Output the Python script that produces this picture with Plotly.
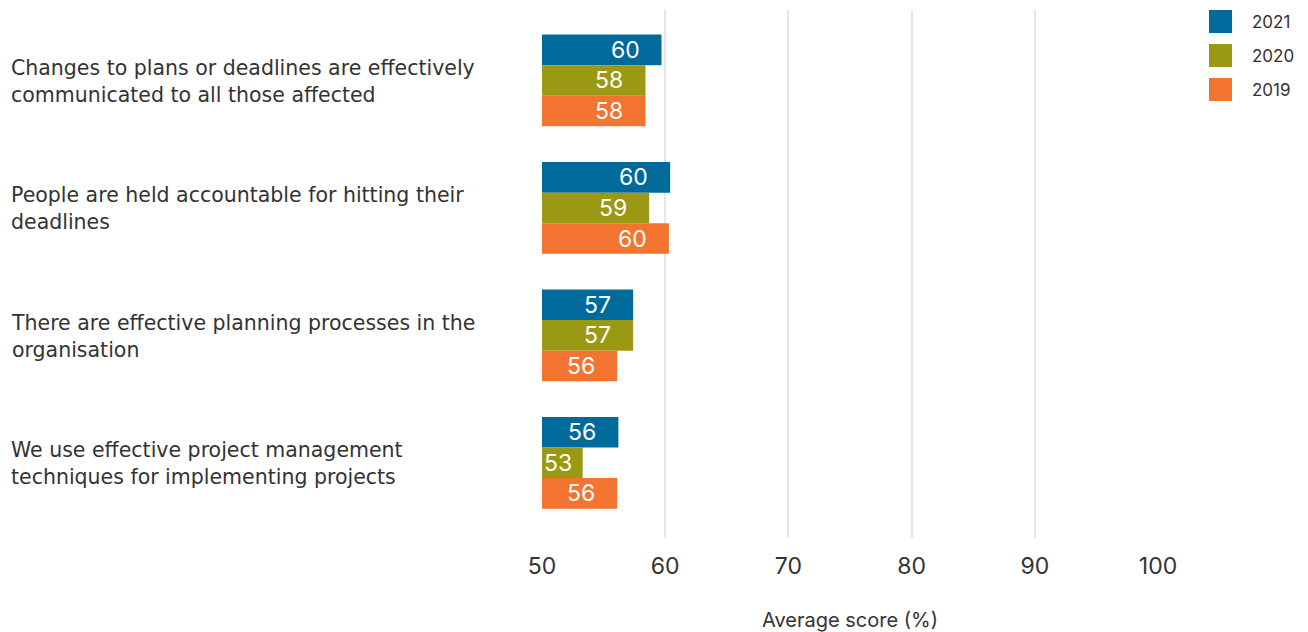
import plotly.graph_objects as go

categories = [
    "Changes to plans or deadlines are effectively<br>communicated to all those affected",
    "People are held accountable for hitting their<br>deadlines",
    "There are effective planning processes in the<br>organisation",
    "We use effective project management<br>techniques for implementing projects",
]
years = ["2021", "2020", "2019"]
values_2021 = [59.7, 60.4, 57.4, 56.2]
values_2020 = [58.4, 58.7, 57.4, 53.3]
values_2019 = [58.4, 60.3, 56.1, 56.1]
colors = ["#006A9B", "#999914", "#F37330"]

series = [values_2021, values_2020, values_2019]
FONT = "Inter"
TEXT = "#333333"

X0, X1 = 50, 100
PLOT_W = 1308 - 542 - 150
PX = PLOT_W / (X1 - X0)

fig = go.Figure()
idx = list(range(len(categories)))
for name, vals, col in zip(years, series, colors):
    fig.add_trace(go.Bar(
        y=idx, x=[v - X0 for v in vals], base=X0, orientation="h",
        name=name, marker=dict(color=col, line=dict(width=0)),
        showlegend=False, hoverinfo="x+name",
    ))

annotations = []
group_w = 0.72
bw = group_w / 3
for t, vals in enumerate(series):
    off = -group_w / 2 + bw / 2 + bw * t
    for i, v in enumerate(vals):
        xr = max(v - 20 / PX, X0 + 32 / PX)
        annotations.append(dict(
            x=xr, y=i + off, xref="x", yref="y", text=str(round(v)),
            showarrow=False, xanchor="right", yanchor="middle",
            font=dict(family=FONT, size=23, color="white"),
        ))

for i, c in enumerate(categories):
    annotations.append(dict(
        x=0, y=i, xref="paper", yref="y", xshift=-533, yshift=-1, text=c,
        showarrow=False, xanchor="left", yanchor="middle", align="left",
        font=dict(family="DejaVu Sans", size=20.5, color=TEXT),
    ))

shapes = []
for k, (name, col) in enumerate(zip(years, colors)):
    top = -34 * k
    shapes.append(dict(
        type="rect", xref="paper", yref="paper", xsizemode="pixel", ysizemode="pixel",
        xanchor=1, yanchor=1, x0=51, x1=74, y0=top, y1=top - 23,
        fillcolor=col, line=dict(width=0),
    ))
    annotations.append(dict(
        x=1, y=1, xref="paper", yref="paper", xshift=92, yshift=top - 11.5,
        text=name, showarrow=False, xanchor="left", yanchor="middle",
        font=dict(family=FONT, size=17, color=TEXT),
    ))

fig.update_layout(
    width=1308, height=632,
    margin=dict(l=542, r=150, t=10, b=94),
    paper_bgcolor="white", plot_bgcolor="white",
    barmode="group", bargap=0.28, bargroupgap=0,
    xaxis=dict(
        range=[X0, X1], tickvals=[50, 60, 70, 80, 90, 100],
        showgrid=True, gridcolor="#E6E6EA", gridwidth=2,
        zeroline=False, showline=False, ticks="", ticklabelstandoff=12,
        automargin=False,
        tickfont=dict(family=FONT, size=23, color=TEXT),
        title=dict(text="Average score (%)", font=dict(family=FONT, size=20, color=TEXT), standoff=34),
    ),
    yaxis=dict(
        range=[3.59, -0.553], showticklabels=False, showgrid=False,
        zeroline=False, showline=False, ticks="", automargin=False,
    ),
    annotations=annotations, shapes=shapes,
    font=dict(family=FONT, color=TEXT),
)

fig.write_html("out.html")
